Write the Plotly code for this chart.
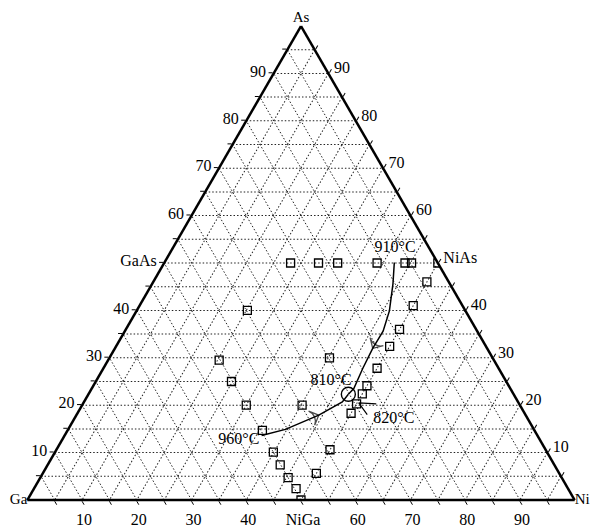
import plotly.graph_objects as go

# ---------------- data (at.%) ----------------
# measured compositions: As and Ni content, Ga = 100 - As - Ni
pts_as = [50, 50, 50, 50, 50, 50, 50,
          46, 41, 36, 32.4, 27.8, 24.1, 22.4, 20.3, 18.3,
          40, 29.5, 25, 30, 20, 20,
          14.7, 10.1, 7.4, 4.7, 2.4, 0, 10.6, 5.6]
pts_ni = [23.1, 28.2, 31.7, 38.9, 44.0, 45.2, 50,
          50, 50, 50, 50, 50, 50, 50, 50, 50,
          20.2, 20.3, 24.8, 40.2, 30.0, 40.2,
          35.6, 39.9, 42.5, 45.3, 47.9, 50, 50, 50]

# ternary eutectic (810 °C)
eut_as = [22.3]
eut_ni = [47.5]

# liquidus valley from 910 °C
v1_as = [50.1, 45.6, 39.9, 35.6, 32.0, 27.8, 23.5, 22.3]
v1_ni = [42.0, 44.0, 46.2, 47.2, 47.1, 47.4, 47.9, 47.5]
v1_arrow = 4  # index of arrow position

# liquidus valley from 960 °C
v2_as = [13.6, 14.9, 17.9, 20.7, 22.3]
v2_ni = [36.0, 39.7, 44.3, 47.2, 47.5]
v2_arrow = 2

# 820 °C pointer (arm, tip, arm)
p3_as = [20.3, 20.5, 18.0]
p3_ni = [53.6, 50.3, 53.1]

# temperature labels
lab_text = ["910°C", "810°C", "820°C", "960°C"]
lab_as = [53.2, 25.2, 17.1, 12.7]
lab_ni = [40.6, 42.9, 58.4, 32.3]

# tick labels
tick_vals = list(range(5, 100, 5))
a_text = ["GaAs" if v == 50 else (str(v) if v % 10 == 0 else "") for v in tick_vals]
b_text = ["NiGa" if v == 50 else (str(100 - v) if v % 10 == 0 else "") for v in tick_vals]
c_text = ["NiAs" if v == 50 else (str(100 - v) if v % 10 == 0 else "") for v in tick_vals]

vertex_text = ["As", "Ga", "Ni"]
vertex_as = [100, 0, 0]
vertex_ni = [0, 0, 100]


def ga(a_list, n_list):
    return [100 - a - n for a, n in zip(a_list, n_list)]


FONT = "Liberation Serif"

fig = go.Figure()

# curves
fig.add_trace(go.Scatterternary(a=v1_as, b=ga(v1_as, v1_ni), c=v1_ni, mode="lines",
                                line=dict(color="black", width=1.5), hoverinfo="skip"))
fig.add_trace(go.Scatterternary(a=v2_as, b=ga(v2_as, v2_ni), c=v2_ni, mode="lines",
                                line=dict(color="black", width=1.5), hoverinfo="skip"))
fig.add_trace(go.Scatterternary(a=p3_as, b=ga(p3_as, p3_ni), c=p3_ni, mode="lines",
                                line=dict(color="black", width=1.2), hoverinfo="skip"))

# arrowheads
for arr_a, arr_n, k in [(v1_as, v1_ni, v1_arrow), (v2_as, v2_ni, v2_arrow)]:
    sa = arr_a[k - 1:k + 1]
    sn = arr_n[k - 1:k + 1]
    fig.add_trace(go.Scatterternary(
        a=sa, b=ga(sa, sn), c=sn, mode="markers",
        marker=dict(symbol="arrow-wide-open", size=[0, 11], angleref="previous",
                    color="black", line=dict(color="black", width=1.3)),
        hoverinfo="skip"))

# data squares
fig.add_trace(go.Scatterternary(a=pts_as, b=ga(pts_as, pts_ni), c=pts_ni, mode="markers",
                                marker=dict(symbol="square-open", size=8, color="black",
                                            line=dict(color="black", width=1.3)),
                                hoverinfo="skip"))
# eutectic circle
fig.add_trace(go.Scatterternary(a=eut_as, b=ga(eut_as, eut_ni), c=eut_ni, mode="markers",
                                marker=dict(symbol="circle-open", size=14, color="black",
                                            line=dict(color="black", width=1.4)),
                                hoverinfo="skip"))

# temperature labels
fig.add_trace(go.Scatterternary(a=lab_as, b=ga(lab_as, lab_ni), c=lab_ni, mode="text",
                                text=lab_text, textposition="middle center",
                                textfont=dict(family=FONT, size=16, color="black"),
                                cliponaxis=False, hoverinfo="skip"))

# vertex labels
for t, va, vn, pos in zip(vertex_text, vertex_as, vertex_ni,
                          ["top center", "middle left", "middle right"]):
    fig.add_trace(go.Scatterternary(a=[va], b=ga([va], [vn]), c=[vn], mode="text",
                                    text=[t], textposition=pos,
                                    textfont=dict(family=FONT, size=15, color="black"),
                                    cliponaxis=False, hoverinfo="skip"))


def axis(texts):
    return dict(
        tickmode="array", tickvals=tick_vals, ticktext=texts,
        showline=True, linecolor="black", linewidth=2.5,
        showgrid=True, gridcolor="#222222", griddash="1.5px,2px", gridwidth=1,
        ticks="outside", ticklen=4, tickcolor="black", tickwidth=1,
        tickfont=dict(family=FONT, size=16, color="black"),
        title=dict(text=""), layer="below traces",
    )


fig.update_layout(
    width=600, height=531,
    margin=dict(l=19, r=33, t=18, b=39),
    paper_bgcolor="white",
    showlegend=False,
    ternary=dict(
        sum=100, bgcolor="white",
        domain=dict(x=[0, 1], y=[0, 1]),
        aaxis=axis(a_text),
        baxis=axis(b_text),
        caxis=axis(c_text),
    ),
)

fig.write_html("out.html")
